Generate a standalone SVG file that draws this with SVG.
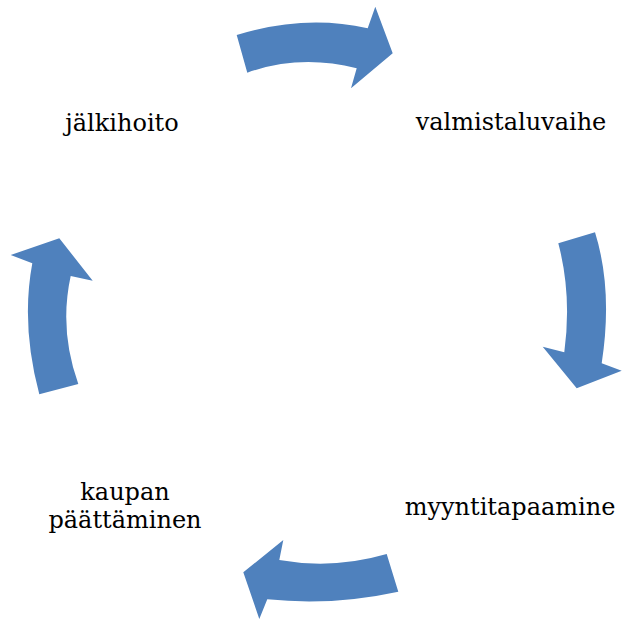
<svg xmlns="http://www.w3.org/2000/svg" width="622" height="619" viewBox="0 0 622 619">
<style>
.arr{fill:#4F81BD;stroke:none}
.lbl{font-family:"DejaVu Serif","Liberation Serif",serif;font-size:24px;fill:#000;text-anchor:middle}
</style>
<rect width="622" height="619" fill="#fff"/>
<g id="connectors">
<path class="arr" d="M236.7,35 Q305,14 367.7,28.3 L375.3,6.7 L392.7,53.3 L351,88.3 L356.7,68.3 Q300,54 247.3,72.7 Z"/>
<path class="arr" d="M595,232.3 Q613,290 601.7,363.3 L621.7,370.7 L576.7,388.3 L542.7,346.7 L564.3,352.3 Q572,295 558.3,243.3 Z"/>
<path class="arr" d="M398.3,591.7 Q333,606 267.3,599.3 L259.3,619 L243.3,572.3 L283.3,540 L279.3,560 Q333,569.6 386.7,554 Z"/>
<path class="arr" d="M39.3,394.3 Q20.8,325 32.3,263.3 L10.7,255 L59.3,238.3 L92.7,280.7 L70.7,276 Q58.9,330 78.3,384 Z"/>
</g>
<g id="node-valmistaluvaihe"><text class="lbl" x="511" y="130">valmistaluvaihe</text></g>
<g id="node-myyntitapaamine"><text class="lbl" x="510" y="515">myyntitapaamine</text></g>
<g id="node-kaupan"><text class="lbl" x="125" y="500">kaupan</text><text class="lbl" x="125" y="528">päättäminen</text></g>
<g id="node-jalkihoito"><text class="lbl" x="122" y="131">jälkihoito</text></g>
</svg>
